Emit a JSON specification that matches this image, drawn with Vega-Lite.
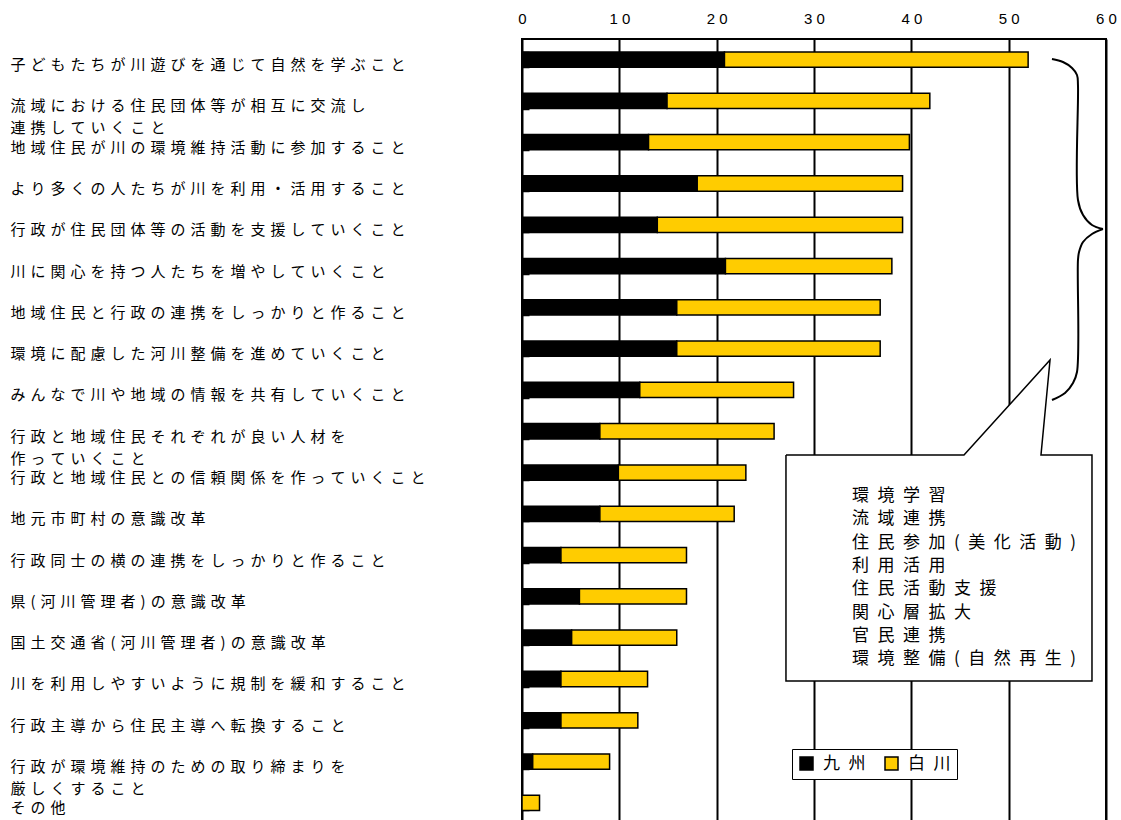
{
  "$schema": "https://vega.github.io/schema/vega-lite/v6.json",
  "autosize": "none",
  "padding": {"left": 522, "top": 39, "right": 15, "bottom": 0},
  "width": 584,
  "height": 784.5,
  "background": "white",
  "config": {"view": {"stroke": "black", "strokeWidth": 2}},
  "datasets": {
    "bars": [
      {"item": "子どもたちが川遊びを通じて自然を学ぶこと", "series": "九州", "value": 20.8},
      {"item": "子どもたちが川遊びを通じて自然を学ぶこと", "series": "白川", "value": 31.2},
      {"item": "流域における住民団体等が相互に交流し\n連携していくこと", "series": "九州", "value": 14.9},
      {"item": "流域における住民団体等が相互に交流し\n連携していくこと", "series": "白川", "value": 27.0},
      {"item": "地域住民が川の環境維持活動に参加すること", "series": "九州", "value": 13.0},
      {"item": "地域住民が川の環境維持活動に参加すること", "series": "白川", "value": 26.8},
      {"item": "より多くの人たちが川を利用・活用すること", "series": "九州", "value": 18.0},
      {"item": "より多くの人たちが川を利用・活用すること", "series": "白川", "value": 21.1},
      {"item": "行政が住民団体等の活動を支援していくこと", "series": "九州", "value": 13.9},
      {"item": "行政が住民団体等の活動を支援していくこと", "series": "白川", "value": 25.2},
      {"item": "川に関心を持つ人たちを増やしていくこと", "series": "九州", "value": 20.9},
      {"item": "川に関心を持つ人たちを増やしていくこと", "series": "白川", "value": 17.1},
      {"item": "地域住民と行政の連携をしっかりと作ること", "series": "九州", "value": 15.9},
      {"item": "地域住民と行政の連携をしっかりと作ること", "series": "白川", "value": 20.9},
      {"item": "環境に配慮した河川整備を進めていくこと", "series": "九州", "value": 15.9},
      {"item": "環境に配慮した河川整備を進めていくこと", "series": "白川", "value": 20.9},
      {"item": "みんなで川や地域の情報を共有していくこと", "series": "九州", "value": 12.1},
      {"item": "みんなで川や地域の情報を共有していくこと", "series": "白川", "value": 15.8},
      {"item": "行政と地域住民それぞれが良い人材を\n作っていくこと", "series": "九州", "value": 8.0},
      {"item": "行政と地域住民それぞれが良い人材を\n作っていくこと", "series": "白川", "value": 17.9},
      {"item": "行政と地域住民との信頼関係を作っていくこと", "series": "九州", "value": 9.9},
      {"item": "行政と地域住民との信頼関係を作っていくこと", "series": "白川", "value": 13.1},
      {"item": "地元市町村の意識改革", "series": "九州", "value": 8.0},
      {"item": "地元市町村の意識改革", "series": "白川", "value": 13.8},
      {"item": "行政同士の横の連携をしっかりと作ること", "series": "九州", "value": 4.0},
      {"item": "行政同士の横の連携をしっかりと作ること", "series": "白川", "value": 12.9},
      {"item": "県(河川管理者)の意識改革", "series": "九州", "value": 5.9},
      {"item": "県(河川管理者)の意識改革", "series": "白川", "value": 11.0},
      {"item": "国土交通省(河川管理者)の意識改革", "series": "九州", "value": 5.1},
      {"item": "国土交通省(河川管理者)の意識改革", "series": "白川", "value": 10.8},
      {"item": "川を利用しやすいように規制を緩和すること", "series": "九州", "value": 4.0},
      {"item": "川を利用しやすいように規制を緩和すること", "series": "白川", "value": 8.9},
      {"item": "行政主導から住民主導へ転換すること", "series": "九州", "value": 4.0},
      {"item": "行政主導から住民主導へ転換すること", "series": "白川", "value": 7.9},
      {"item": "行政が環境維持のための取り締まりを\n厳しくすること", "series": "九州", "value": 1.1},
      {"item": "行政が環境維持のための取り締まりを\n厳しくすること", "series": "白川", "value": 7.9},
      {"item": "その他", "series": "九州", "value": 0},
      {"item": "その他", "series": "白川", "value": 1.8}
    ],
    "calloutBox": [
      {"ax": 27.12, "ax2": 58.56, "ay": 10.075, "ay2": 15.549}
    ],
    "calloutPointer": [
      {"ay": 7.774, "ax": 54.25, "ax2": 54.25},
      {"ay": 10.075, "ax": 45.41, "ax2": 53.32}
    ],
    "calloutOutline": [
      {"o": 1, "ax": 27.12, "ay": 10.075},
      {"o": 2, "ax": 45.41, "ay": 10.075},
      {"o": 3, "ax": 54.25, "ay": 7.774},
      {"o": 4, "ax": 53.32, "ay": 10.075},
      {"o": 5, "ax": 58.56, "ay": 10.075},
      {"o": 6, "ax": 58.56, "ay": 15.549},
      {"o": 7, "ax": 27.12, "ay": 15.549},
      {"o": 8, "ax": 27.12, "ay": 10.075}
    ],
    "calloutText": [
      {"t": "環境学習", "ax": 33.9, "ay": 11.068},
      {"t": "流域連携", "ax": 33.9, "ay": 11.633},
      {"t": "住民参加(美化活動)", "ax": 33.9, "ay": 12.197},
      {"t": "利用活用", "ax": 33.9, "ay": 12.761},
      {"t": "住民活動支援", "ax": 33.9, "ay": 13.325},
      {"t": "関心層拡大", "ax": 33.9, "ay": 13.890},
      {"t": "官民連携", "ax": 33.9, "ay": 14.454},
      {"t": "環境整備(自然再生)", "ax": 33.9, "ay": 15.018}
    ],
    "brace": [
      {"part": "top", "o": 1, "ax": 54.45, "ay": 0.484},
      {"part": "top", "o": 2, "ax": 55.58, "ay": 0.557},
      {"part": "top", "o": 3, "ax": 56.51, "ay": 0.702},
      {"part": "top", "o": 4, "ax": 57.02, "ay": 0.872},
      {"part": "top", "o": 5, "ax": 57.12, "ay": 1.114},
      {"part": "top", "o": 6, "ax": 57.12, "ay": 3.899},
      {"part": "top", "o": 7, "ax": 57.64, "ay": 4.263},
      {"part": "top", "o": 8, "ax": 58.56, "ay": 4.505},
      {"part": "top", "o": 9, "ax": 59.69, "ay": 4.602},
      {"part": "bottom", "o": 1, "ax": 59.69, "ay": 4.602},
      {"part": "bottom", "o": 2, "ax": 58.56, "ay": 4.722},
      {"part": "bottom", "o": 3, "ax": 57.64, "ay": 4.916},
      {"part": "bottom", "o": 4, "ax": 57.23, "ay": 5.159},
      {"part": "bottom", "o": 5, "ax": 57.12, "ay": 5.352},
      {"part": "bottom", "o": 6, "ax": 57.02, "ay": 8.065},
      {"part": "bottom", "o": 7, "ax": 56.61, "ay": 8.331},
      {"part": "bottom", "o": 8, "ax": 55.79, "ay": 8.573},
      {"part": "bottom", "o": 9, "ax": 54.45, "ay": 8.743}
    ]
  },
  "layer": [
    {
      "data": {"name": "bars"},
      "mark": {"type": "bar", "stroke": "black", "strokeWidth": 1.5, "opacity": 1},
      "encoding": {
        "y": {
          "field": "item", "type": "nominal", "sort": null, "title": null,
          "scale": {"paddingInner": 0.63, "paddingOuter": 0.315},
          "axis": {
            "orient": "left", "domain": false, "grid": false,
            "ticks": true, "tickBand": "extent", "tickSize": -7, "tickColor": "black", "tickWidth": 1.5,
            "labelAlign": "left", "labelBaseline": "line-bottom", "labelPadding": 519,
            "labelFont": "Noto Sans CJK JP", "labelFontSize": 15, "labelColor": "black",
            "labelLimit": 0, "labelLineHeight": 22, "labelOffset": 17,
            "labelExpr": "split(join(split(datum.label, ''), '\u2004'), '\u2004\\n\u2004')"
          }
        },
        "x": {
          "field": "value", "type": "quantitative", "stack": "zero", "title": null,
          "scale": {"domain": [0, 60], "nice": false},
          "axis": {
            "orient": "top", "values": [0, 10, 20, 30, 40, 50, 60], "domain": false,
            "ticks": false, "tickSize": 0, "grid": true, "gridColor": "black", "gridWidth": 2, "gridOpacity": 1,
            "labelFont": "Liberation Sans", "labelFontSize": 15, "labelColor": "black",
            "labelPadding": 13, "labelFlush": false,
            "labelExpr": "join(split(datum.label, ''), ' ')"
          }
        },
        "color": {
          "field": "series", "type": "nominal",
          "scale": {"domain": ["九州", "白川"], "range": ["#000000", "#FFCC00"]},
          "legend": {
            "orient": "none", "legendX": 270, "legendY": 710, "direction": "horizontal", "title": null,
            "fillColor": "white", "strokeColor": "black", "padding": 6,
            "symbolType": "square", "symbolSize": 169, "symbolStrokeColor": "black", "symbolStrokeWidth": 1.5,
            "labelFont": "Noto Sans CJK JP", "labelFontSize": 17, "labelColor": "black",
            "labelOffset": 8, "columnPadding": 16,
            "labelExpr": "join(split(datum.label, ''), '\u2002')"
          }
        }
      }
    },
    {
      "layer": [
        {
          "data": {"name": "calloutBox"},
          "mark": {"type": "rect", "fill": "white", "opacity": 1},
          "encoding": {
            "x": {"field": "ax", "type": "quantitative", "title": null, "scale": {"domain": [0, 60], "nice": false}},
            "x2": {"field": "ax2"},
            "y": {"field": "ay", "type": "quantitative", "axis": null, "scale": {"domain": [0, 19], "reverse": true, "nice": false, "zero": false}},
            "y2": {"field": "ay2"}
          }
        },
        {
          "data": {"name": "calloutPointer"},
          "mark": {"type": "area", "orient": "horizontal", "fill": "white", "opacity": 1},
          "encoding": {
            "y": {"field": "ay", "type": "quantitative", "axis": null, "scale": {"domain": [0, 19], "reverse": true, "nice": false, "zero": false}},
            "x": {"field": "ax", "type": "quantitative", "title": null, "scale": {"domain": [0, 60], "nice": false}},
            "x2": {"field": "ax2"}
          }
        },
        {
          "data": {"name": "calloutOutline"},
          "mark": {"type": "line", "color": "black", "strokeWidth": 1.5, "interpolate": "linear"},
          "encoding": {
            "x": {"field": "ax", "type": "quantitative", "title": null, "scale": {"domain": [0, 60], "nice": false}},
            "y": {"field": "ay", "type": "quantitative", "axis": null, "scale": {"domain": [0, 19], "reverse": true, "nice": false, "zero": false}},
            "order": {"field": "o", "type": "quantitative"}
          }
        },
        {
          "data": {"name": "calloutText"},
          "mark": {
            "type": "text", "align": "left", "baseline": "middle",
            "font": "Noto Sans CJK JP", "fontSize": 17, "color": "black",
            "text": {"expr": "join(split(datum.t, ''), '\u2002')"}
          },
          "encoding": {
            "x": {"field": "ax", "type": "quantitative", "title": null, "scale": {"domain": [0, 60], "nice": false}},
            "y": {"field": "ay", "type": "quantitative", "axis": null, "scale": {"domain": [0, 19], "reverse": true, "nice": false, "zero": false}}
          }
        },
        {
          "data": {"name": "brace"},
          "mark": {"type": "line", "color": "black", "strokeWidth": 2, "interpolate": "catmull-rom"},
          "encoding": {
            "x": {"field": "ax", "type": "quantitative", "title": null, "scale": {"domain": [0, 60], "nice": false}},
            "y": {"field": "ay", "type": "quantitative", "axis": null, "scale": {"domain": [0, 19], "reverse": true, "nice": false, "zero": false}},
            "detail": {"field": "part", "type": "nominal"},
            "order": {"field": "o", "type": "quantitative"}
          }
        }
      ]
    }
  ],
  "resolve": {"scale": {"y": "independent"}}
}
